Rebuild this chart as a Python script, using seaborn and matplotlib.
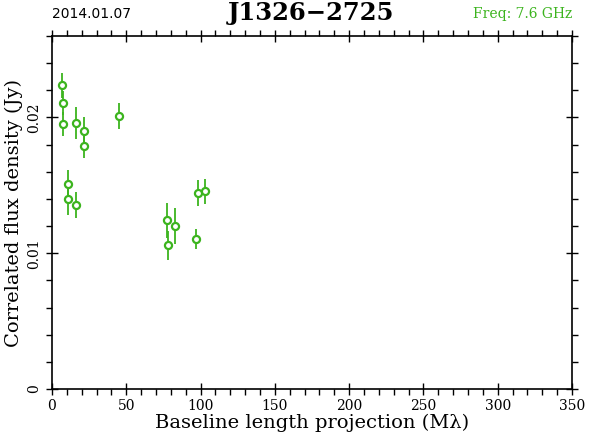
import numpy as np
import pandas as pd
import matplotlib
matplotlib.use("Agg")
import matplotlib.pyplot as plt
import seaborn as sns
from matplotlib.ticker import MultipleLocator

# -----------------------------------
# Data
# -----------------------------------
baseline = [6.7, 7.2, 7.2, 16.2, 21.8, 21.5, 44.9, 98.5, 103.2,
            77.2, 82.6, 78.3, 97.1, 11.0, 11.0, 16.2]
flux = [0.02238, 0.02105, 0.01951, 0.01960, 0.01903, 0.01791, 0.02010,
        0.01444, 0.01457, 0.01243, 0.01201, 0.01059, 0.01103,
        0.01511, 0.01398, 0.01356]
flux_err = [0.00093, 0.00090, 0.00091, 0.00117, 0.00100, 0.00086, 0.00097,
            0.00098, 0.00091, 0.00129, 0.00130, 0.00107, 0.00074,
            0.00103, 0.00116, 0.00096]

date_label = "2014.01.07"
source_name = "J1326\u22122725"
freq_label = "Freq: 7.6 GHz"
x_label = "Baseline length projection (M\u03bb)"
y_label = "Correlated flux density (Jy)"

GREEN = "#3cb41e"

df = pd.DataFrame({"baseline": baseline, "flux": flux, "err": flux_err})

# -----------------------------------
# Plot
# -----------------------------------
sns.set_style("ticks")
plt.rcParams["font.family"] = ["DejaVu Serif"]
plt.rcParams["text.color"] = "black"
plt.rcParams["axes.labelcolor"] = "black"
plt.rcParams["xtick.color"] = "black"
plt.rcParams["ytick.color"] = "black"

fig = plt.figure(figsize=(5.9, 4.43), dpi=100)
ax = fig.add_axes([0.0881, 0.1219, 0.8814, 0.7968])

ax.errorbar(df["baseline"], df["flux"], yerr=df["err"], fmt="none",
            ecolor=GREEN, elinewidth=1.3, capsize=0, zorder=2)
sns.scatterplot(data=df, x="baseline", y="flux", ax=ax, marker="o",
                s=26, facecolor="white", edgecolor=GREEN, linewidth=1.6,
                zorder=3, legend=False)

ax.set_xlim(0, 350)
ax.set_ylim(0, 0.026)
ax.xaxis.set_major_locator(MultipleLocator(50))
ax.xaxis.set_minor_locator(MultipleLocator(10))
ax.yaxis.set_major_locator(MultipleLocator(0.01))
ax.yaxis.set_minor_locator(MultipleLocator(0.002))
ax.set_yticks([0, 0.01, 0.02])
ax.set_yticklabels(["0", "0.01", "0.02"], rotation=90, va="center")

ax.tick_params(which="major", direction="inout", length=9, width=1,
               top=True, right=True, labelsize=10, color="black",
               labelcolor="black")
ax.tick_params(which="minor", direction="out", length=4, width=1,
               top=True, right=True, color="black")
ax.tick_params(axis="x", pad=3)
ax.tick_params(axis="y", pad=3)

for sp in ax.spines.values():
    sp.set_color("black")
    sp.set_linewidth(1.2)

ax.set_xlabel(x_label, fontsize=14, labelpad=0, color="black")
ax.set_ylabel(y_label, fontsize=14, labelpad=3, color="black")

fig.text(0.0881, 0.968, date_label, fontsize=10, ha="left", va="center",
         family=["DejaVu Sans"], color="black")
fig.text(0.527, 0.970, source_name, fontsize=17.5, fontweight="bold",
         ha="center", va="center", color="black")
fig.text(0.9695, 0.968, freq_label, fontsize=10, ha="right", va="center",
         color=GREEN)

plt.savefig("out.png", dpi=100)
plt.close()
